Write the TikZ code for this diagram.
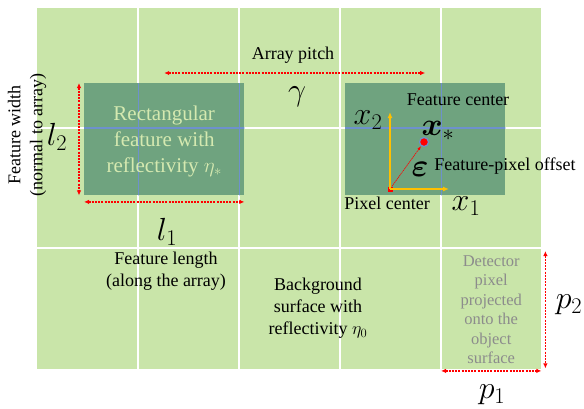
\RequirePackage{fix-cm}
\documentclass[tikz,border=0pt]{standalone}
\usepackage{amsmath,bm}
\usepackage{fontspec}
\setmainfont{Liberation Serif}
\usetikzlibrary{arrows.meta, positioning}

\definecolor{bggreen}{HTML}{C9E5A9}
\definecolor{featgreen}{HTML}{6FA37F}
\definecolor{feattext}{HTML}{D5E9B0}
\definecolor{gridblue}{HTML}{6E91CC}
\definecolor{axisgold}{HTML}{FFC000}
\definecolor{dimred}{HTML}{FF0000}

\begin{document}
\begin{tikzpicture}[
  x=1pt, y=-1pt,
  lbl/.style      = {font=\rmfamily\fontsize{18}{22}\selectfont, align=center, inner sep=0pt},
  feattxt/.style  = {lbl, text=feattext, font=\rmfamily\fontsize{21}{26}\selectfont},
  graytxt/.style  = {lbl, text=black!45, font=\rmfamily\fontsize{16.5}{19.5}\selectfont},
  sym/.style      = {font=\fontsize{32}{36}\selectfont, inner sep=0pt},
  feature/.style  = {fill=featgreen, inner sep=0pt, minimum width=160pt,
                     minimum height=112pt, anchor=north west},
  dimarr/.style   = {{Latex[length=5pt,width=4.5pt]}-{Latex[length=5pt,width=4.5pt]},
                     draw=dimred, dash pattern=on 2pt off 1.2pt, line width=1.3pt},
  axisarr/.style  = {-{Latex[length=6pt,width=5pt]}, draw=axisgold, line width=1.8pt},
  gridline/.style = {white, line width=1.3pt},
]
\useasboundingbox (0,0) rectangle (584,408);

%% ── Object surface and detector pixel grid ────────────────────────
\fill[bggreen] (37,8) rectangle (541,369);
\foreach \gx in {138,239,340,441}
  \draw[gridline] (\gx,8) -- (\gx,369);
\foreach \gy in {128,248}
  \draw[gridline] (37,\gy) -- (541,\gy);

%% ── Features ──────────────────────────────────────────────────────
\node[feature] (featA) at (84,83) {};
\node[feature] (featB) at (345,83) {};
\begin{scope}
  \clip (featA.north west) rectangle (featA.south east)
        (featB.north west) rectangle (featB.south east);
  \foreach \gx in {138,239,340,441}
    \draw[gridblue, line width=1pt] (\gx,8) -- (\gx,369);
  \draw[gridblue, line width=1.3pt] (37,128) -- (541,128);
\end{scope}

\node[feattxt] (featAtext) at ([yshift=-2pt]featA.center)
    {Rectangular\\feature with\\reflectivity $\eta_*$};

%% ── Feature dimensions and array pitch ────────────────────────────
\draw[dimarr] ([xshift=-5pt]featA.north west) -- ([xshift=-5pt]featA.south west);
\draw[dimarr] ([yshift=-6.5pt]featA.south west) -- ([yshift=-6.5pt]featA.south east);
\coordinate (pitchL) at ([yshift=10pt]featA.north);
\coordinate (pitchR) at ([yshift=10pt]featB.north);
\draw[dimarr] (pitchL) -- (pitchR);

\node[lbl] (pitch) at (293,55) {Array pitch};
\node[sym] (gamma) at (297,97) {$\gamma$};
\node[sym] (ltwo) at (57,137) {$l_2$};
\node[sym] (lone) at (167,232) {$l_1$};
\node[lbl, rotate=90] (fwidth) at (27,135) {Feature width\\(normal to array)};
\node[lbl] (flength) at (166,271) {Feature length\\(along the array)};
\node[lbl] (bground) at (318,308) {Background\\surface with\\reflectivity $\eta_0$};

%% ── Pixel centre, feature centre and offset ───────────────────────
\node[fill=dimred, inner sep=0pt, minimum size=5pt] (pixsq) at (390,189) {};
\coordinate (xoneend) at (449,189);
\coordinate (xtwoend) at (390,112);
\draw[axisarr] (pixsq.center) -- (xoneend);
\draw[axisarr] (pixsq.center) -- (xtwoend);
\node[circle, fill=dimred, draw=gridblue, line width=1.2pt, inner sep=0pt,
      minimum size=9pt] (fcenter) at (424,142) {};
\draw[-{Latex[length=4pt,width=3pt]}, draw=dimred, line width=0.6pt,
      dash pattern=on 1.5pt off 0.6pt] (pixsq) -- (fcenter);

\node[sym] (xtwo) at (368,120) {$x_2$};
\node[sym] (xstar) at (438,131) {$\bm{x}_*$};
\node[sym] (xone) at (466,206) {$x_1$};
\node[sym] (eps) at (420,169) {$\bm{\varepsilon}$};
\node[lbl] (fclbl) at (458,100) {Feature center};
\node[lbl] (offlbl) at (505,166) {Feature-pixel offset};
\node[lbl] (pclbl) at (387,203) {Pixel center};

%% ── Detector pixel projected onto the surface ─────────────────────
\node[inner sep=0pt, minimum width=100pt, minimum height=121pt,
      anchor=north west] (detcell) at (441,248) {};
\node[graytxt] (dettext) at ([yshift=-1pt]detcell.center)
    {Detector\\pixel\\projected\\onto the\\object\\surface};
\draw[dimarr] ([xshift=4pt,yshift=-3pt]detcell.north east)
           -- ([xshift=4pt,yshift=1pt]detcell.south east);
\draw[dimarr] ([yshift=-1.5pt]detcell.south west) -- ([yshift=-1.5pt]detcell.south east);
\node[sym] (ptwo) at (569,305) {$p_2$};
\node[sym] (pone) at (492,395) {$p_1$};

\end{tikzpicture}
\end{document}
